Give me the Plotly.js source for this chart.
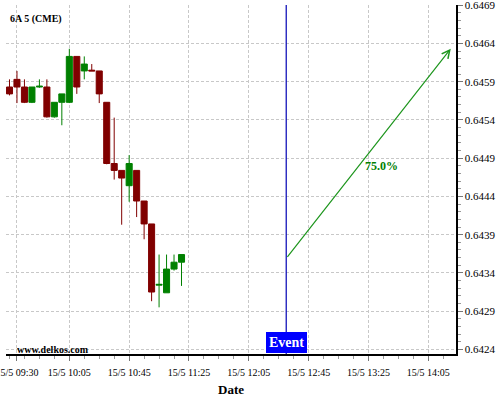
<!DOCTYPE html>
<html>
<head>
<meta charset="utf-8">
<script src="https://cdn.plot.ly/plotly-3.0.1.min.js"></script>
<style>html,body{margin:0;padding:0;background:#fff;}#chart{width:500px;height:400px;}</style>
</head>
<body>
<div id="chart"></div>
<script>
// Candle times (5-minute bars, 15/5)
var times = ['2020-05-15 09:25','2020-05-15 09:30','2020-05-15 09:35','2020-05-15 09:40','2020-05-15 09:45','2020-05-15 09:50',
             '2020-05-15 09:55','2020-05-15 10:00','2020-05-15 10:05','2020-05-15 10:10','2020-05-15 10:15','2020-05-15 10:20',
             '2020-05-15 10:25','2020-05-15 10:30','2020-05-15 10:35','2020-05-15 10:40','2020-05-15 10:45','2020-05-15 10:50',
             '2020-05-15 10:55','2020-05-15 11:00','2020-05-15 11:05','2020-05-15 11:10','2020-05-15 11:15','2020-05-15 11:20'];
var openP  = [0.64583,0.64593,0.64583,0.64563,0.64583,0.64583,0.64544,0.64563,0.64563,0.64623,0.64604,0.64605,
              0.64604,0.64563,0.64483,0.64474,0.64454,0.64474,0.64434,0.64404,0.64324,0.64314,0.64345,0.64354];
var highP  = [0.64593,0.64604,0.64593,0.64583,0.64593,0.64593,0.64563,0.64574,0.64633,0.64623,0.64623,0.64613,
              0.64604,0.64563,0.64543,0.64474,0.64494,0.64474,0.64434,0.64404,0.64364,0.64364,0.64364,0.64364];
var lowP   = [0.64572,0.64562,0.64562,0.64562,0.64582,0.64543,0.64543,0.64533,0.64562,0.64574,0.64593,0.64604,
              0.64562,0.64482,0.64462,0.64403,0.64433,0.64413,0.64384,0.64303,0.64295,0.64314,0.64343,0.64323];
var closeP = [0.64574,0.64583,0.64563,0.64583,0.64584,0.64544,0.64563,0.64574,0.64623,0.64583,0.64613,0.64604,
              0.64574,0.64483,0.64474,0.64464,0.64483,0.64434,0.64404,0.64315,0.64325,0.64345,0.64354,0.64364];

// X axis ticks
var tickTimes  = ['2020-05-15 09:30','2020-05-15 10:05','2020-05-15 10:45','2020-05-15 11:25',
                  '2020-05-15 12:05','2020-05-15 12:45','2020-05-15 13:25','2020-05-15 14:05'];
var tickLabels = ['15/5 09:30','15/5 10:05','15/5 10:45','15/5 11:25','15/5 12:05','15/5 12:45','15/5 13:25','15/5 14:05'];
var xRange = ['2020-05-15 09:22:40','2020-05-15 14:23:30'];
var yRange = [0.64234, 0.646902];

// Event and projection
var eventTime = '2020-05-15 12:30';
var arrowTimes  = ['2020-05-15 12:30','2020-05-15 14:20'];
var arrowPrices = [0.64359, 0.64633];
var labelTime = '2020-05-15 13:34';
var labelPrice = 0.64480;
var labelText = '75.0%';

var FONT = 'Liberation Serif';

var trace = {
  type: 'candlestick',
  x: times, open: openP, high: highP, low: lowP, close: closeP,
  increasing: {line: {color: '#008000', width: 1}, fillcolor: '#008000'},
  decreasing: {line: {color: '#800000', width: 1}, fillcolor: '#800000'},
  whiskerwidth: 0,
  hoverinfo: 'skip'
};

var layout = {
  width: 500, height: 400,
  margin: {l: 6, r: 44, t: 5, b: 46},
  paper_bgcolor: '#fff', plot_bgcolor: '#fff',
  showlegend: false,
  boxgap: 0.1, boxgroupgap: 0.1,
  font: {family: FONT, color: '#000'},
  title: {
    text: '<b>6A 5 (CME)</b>',
    font: {family: FONT, size: 10, color: '#000'},
    x: 10/500, xanchor: 'left', xref: 'container',
    y: 1 - 18/400, yanchor: 'middle', yref: 'container'
  },
  xaxis: {
    type: 'date', range: xRange,
    rangeslider: {visible: false},
    tickvals: tickTimes, ticktext: tickLabels,
    tickfont: {family: FONT, size: 10, color: '#000'},
    ticklabeloverflow: 'allow',
    ticks: 'outside', ticklen: 5, tickcolor: '#777', tickwidth: 1,
    ticklabelstandoff: 3,
    showline: true, linecolor: '#000', linewidth: 1.5,
    showgrid: true, gridcolor: '#c8c8c8', griddash: '3px,2px', gridwidth: 1,
    zeroline: false,
    minor: {tick0: '2020-05-15 09:25', dtick: 600000, ticks: 'outside', ticklen: 3, tickcolor: '#999', showgrid: false},
    title: {text: '<b>Date</b>', font: {family: FONT, size: 13, color: '#000'}, standoff: 8},
    automargin: false,
    fixedrange: true
  },
  yaxis: {
    side: 'right', range: yRange,
    tick0: 0.6424, dtick: 0.0005, tickformat: '.4f',
    tickfont: {family: FONT, size: 11, color: '#000'},
    ticklabeloverflow: 'allow',
    ticks: 'outside', ticklen: 5, tickcolor: '#777',
    showline: true, linecolor: '#000', linewidth: 1.5,
    showgrid: true, gridcolor: '#c8c8c8', griddash: '3px,2px', gridwidth: 1,
    zeroline: false,
    minor: {dtick: 0.0001, tick0: 0.6424, ticks: 'outside', ticklen: 3, tickcolor: '#999', showgrid: false},
    automargin: false,
    fixedrange: true
  },
  shapes: [{
    type: 'line', xref: 'x', yref: 'paper',
    x0: eventTime, x1: eventTime, y0: 0, y1: 1,
    line: {color: '#0000b4', width: 1.2}
  }],
  annotations: [
    {
      xref: 'x', yref: 'y', x: arrowTimes[1], y: arrowPrices[1],
      axref: 'x', ayref: 'y', ax: arrowTimes[0], ay: arrowPrices[0],
      text: '', showarrow: true, arrowhead: 5, arrowsize: 1.3, arrowwidth: 1.2,
      arrowcolor: '#1e961e'
    },
    {
      xref: 'x', yref: 'y', x: labelTime, y: labelPrice,
      text: '<b>' + labelText + '</b>', showarrow: false,
      font: {family: FONT, size: 12, color: '#008000'}
    },
    {
      xref: 'x', yref: 'paper', x: eventTime, y: 0.002, xanchor: 'center', yanchor: 'bottom',
      text: '<b>Event</b>', showarrow: false, bgcolor: '#0000ff', borderpad: 3, borderwidth: 0,
      font: {family: FONT, size: 14, color: '#fff'}
    },
    {
      xref: 'paper', yref: 'paper', x: 9/450, y: 4.5/349, xanchor: 'left', yanchor: 'middle',
      text: '<b>www.delkos.com</b>', showarrow: false,
      font: {family: FONT, size: 10, color: '#000'}
    }
  ]
};

Plotly.newPlot('chart', [trace], layout, {staticPlot: true, displayModeBar: false});
</script>
</body>
</html>
